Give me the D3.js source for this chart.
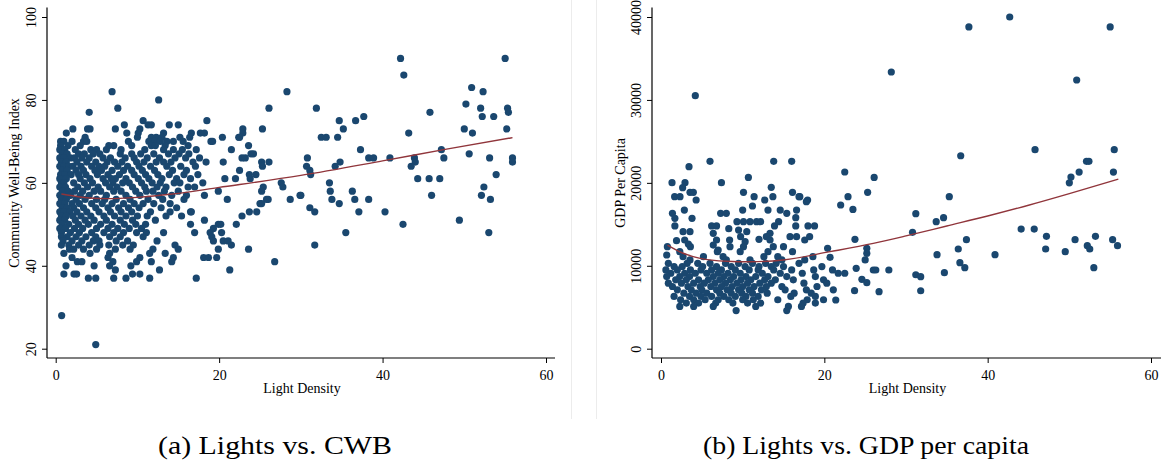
<!DOCTYPE html>
<html lang="en">
<head>
    <meta charset="UTF-8">
    <script src="https://cdn.jsdelivr.net/npm/d3@7"></script>
    <style>
        body { margin: 0; background: #fff; }
        svg text { font-family: "Liberation Serif", "Times New Roman", serif; fill: #000; }
    </style>
</head>
<body>
<svg id="chart" width="1169" height="464"></svg>
<script>
    // DATA

    // shared x axis ticks
    const X_TICKS = [0, 20, 40, 60];
    const CWB_TICKS = [20, 40, 60, 80, 100];
    const GDP_TICKS = [0, 10000, 20000, 30000, 40000];
    const CAPTIONS = ["(a) Lights vs. CWB", "(b) Lights vs. GDP per capita"];

    // Community Well-Being index: [score, [light density values at that score]]
    const cwbRows = [
        [90, [42.2, 55.0]],
        [86, [42.6]],
        [83, [50.9]],
        [82, [6.9, 28.3, 52.3]],
        [80, [12.6]],
        [79, [50.2]],
        [78, [7.6, 26.1, 31.9, 52.0, 55.3]],
        [77, [4.1, 45.8, 55.4]],
        [76, [37.7, 52.2, 53.6]],
        [75, [10.7, 18.5, 34.7, 36.7]],
        [74, [8.4, 11.3, 11.7, 13.9, 15.0]],
        [73, [2.1, 3.9, 4.2, 7.3, 10.3, 22.9, 25.3, 35.2, 50.0, 55.2]],
        [72, [1.3, 8.7, 10.1, 13.2, 16.6, 17.7, 18.2, 22.9, 43.2, 51.0]],
        [71, [3.6, 10.0, 11.7, 12.3, 13.0, 15.2, 16.4, 20.4, 22.4, 22.5, 32.5, 33.1, 34.5]],
        [70, [0.6, 1.0, 2.0, 3.4, 3.8, 8.9, 11.4, 12.1, 12.8, 13.6, 14.4, 15.6, 19.0, 19.2]],
        [69, [0.6, 1.5, 3.0, 6.5, 7.1, 9.3, 11.7, 12.2, 13.4, 16.2, 23.6]],
        [68, [0.5, 1.1, 2.4, 4.3, 5.0, 6.2, 8.0, 10.9, 13.2, 14.4, 15.5, 17.2, 21.5, 37.3, 47.2]],
        [67, [0.8, 1.4, 2.8, 3.5, 4.6, 5.4, 7.9, 9.3, 10.4, 12.0, 13.8, 15.1, 16.3, 23.9, 24.2, 50.6]],
        [66, [0.5, 1.0, 1.8, 2.3, 3.2, 4.1, 5.8, 6.7, 8.5, 9.6, 11.2, 12.7, 14.6, 15.9, 17.6, 22.8, 23.2, 30.8, 38.3, 38.9, 40.9, 43.9, 47.5, 53.1, 55.9]],
        [65, [0.7, 1.3, 2.6, 3.8, 4.9, 6.3, 7.2, 8.1, 9.9, 10.8, 12.3, 13.2, 14.1, 16.8, 18.4, 20.5, 25.2, 26.1, 34.8, 44.0, 55.9]],
        [64, [0.5, 1.0, 1.6, 2.1, 3.1, 4.4, 5.3, 6.0, 7.6, 8.8, 10.2, 11.6, 13.6, 15.3, 17.1, 25.3, 30.7, 34.2, 43.5]],
        [63, [0.8, 1.4, 2.5, 3.4, 4.8, 5.6, 6.9, 8.3, 9.3, 10.6, 12.1, 14.3, 16.0, 22.5, 31.1]],
        [62, [0.6, 1.1, 1.9, 2.8, 3.7, 5.1, 6.4, 7.8, 9.6, 11.0, 12.5, 13.9, 15.7, 17.4, 23.7, 24.5, 31.2, 53.9]],
        [61, [0.5, 1.3, 3.0, 4.2, 5.8, 6.8, 7.3, 8.6, 10.1, 11.4, 13.0, 14.8, 16.5, 20.7, 22.0, 23.8, 44.3, 45.7, 47.0]],
        [60, [0.7, 1.0, 2.2, 3.5, 4.5, 6.1, 7.0, 8.2, 9.0, 10.5, 11.8, 12.8, 14.5, 15.2, 18.0, 27.6, 33.5]],
        [59, [0.5, 1.2, 2.7, 3.9, 5.2, 6.6, 7.5, 9.4, 10.9, 12.4, 13.5, 16.2, 17.0, 25.4, 27.8, 52.4]],
        [58, [0.8, 1.5, 2.3, 3.3, 4.7, 5.5, 7.1, 8.0, 9.8, 11.1, 11.9, 13.3, 15.0, 19.9, 25.2, 33.6, 36.3]],
        [57, [0.5, 1.0, 1.8, 3.0, 4.1, 6.2, 8.6, 10.3, 12.6, 14.2, 16.0, 18.2, 29.9, 30.0, 46.0, 52.1]],
        [56, [0.7, 1.3, 2.5, 3.6, 5.0, 6.0, 7.4, 9.1, 11.3, 13.1, 15.7, 21.0, 25.8, 26.0, 28.7, 33.8, 36.6, 38.3, 53.2]],
        [55, [0.5, 1.1, 2.0, 2.9, 4.4, 5.7, 6.9, 8.3, 9.6, 10.7, 12.0, 14.0, 25.0, 25.2, 34.7]],
        [54, [0.8, 1.4, 2.2, 3.4, 4.9, 6.4, 7.7, 8.9, 10.2, 12.9, 14.8, 31.1]],
        [53, [0.5, 1.0, 1.7, 2.6, 3.8, 5.3, 6.7, 8.0, 9.3, 11.6, 14.0, 16.5, 16.6, 23.7, 24.6, 31.7, 37.1, 40.3]],
        [52, [0.7, 1.3, 2.1, 3.1, 4.3, 5.9, 7.2, 8.6, 10.0, 11.2, 13.5, 15.4, 22.8]],
        [51, [0.5, 1.1, 2.4, 3.6, 4.7, 6.2, 7.9, 9.4, 12.2, 18.2, 49.4]],
        [50, [0.8, 1.6, 2.8, 4.0, 5.5, 6.9, 8.4, 9.8, 11.0, 16.5, 19.9, 20.2, 22.1, 42.5]],
        [49, [0.5, 1.2, 2.3, 3.3, 5.0, 6.4, 7.6, 9.0, 10.5, 19.3]],
        [48, [0.7, 1.8, 2.9, 4.4, 5.9, 7.1, 8.3, 9.9, 11.1, 13.2, 17.0, 18.9, 20.3, 35.5, 53.0]],
        [47, [0.7, 1.4, 2.5, 3.7, 4.9, 6.6, 7.9, 10.7, 19.1]],
        [46, [0.9, 2.0, 3.2, 4.6, 5.3, 7.4, 8.8, 12.4, 19.3, 20.5, 21.1]],
        [45, [0.7, 1.6, 2.8, 4.1, 5.4, 6.5, 8.2, 9.5, 14.6, 21.5, 31.7]],
        [44, [1.7, 2.2, 3.4, 5.0, 7.3, 9.1, 11.9, 15.0, 19.9, 23.6]],
        [43, [1.0, 4.2, 6.6, 11.5, 13.4]],
        [42, [2.0, 6.4, 10.3, 14.4, 18.1, 18.7, 19.7]],
        [41, [2.65, 3.2, 7.0, 9.9, 11.7, 14.2, 26.8]],
        [40, [1.26, 4.7, 6.6, 9.2]],
        [39, [7.3, 12.7, 21.3]],
        [38, [1.0, 2.24, 2.56, 9.4, 10.3]],
        [37, [4.0, 4.9, 7.1, 8.6, 11.5, 17.2]],
        [28, [0.73]],
        [21, [4.9]]
    ];

    // fitted curve for CWB: [light density, score]
    const cwbFit = [[0.7, 57.3], [3, 56.6], [6, 56.2], [10, 56.5], [14.3, 57.3], [20, 58.9],
                    [30, 61.8], [40, 65.3], [48, 68.2], [55.9, 70.9]];

    // GDP per capita, scattered region: [light density, gdp]
    const gdpPoints = [
        [42.7, 40000], [37.7, 38800], [55.0, 38800], [28.2, 33370], [50.9, 32400], [4.2, 30510],
        [45.8, 24000], [55.5, 24000], [36.7, 23270], [52.1, 22600], [52.4, 22600], [51.2, 21300],
        [55.4, 21300], [50.2, 20700], [50.0, 20000], [35.3, 18330], [31.2, 16280], [33.7, 15320],
        [34.6, 15800], [30.8, 14030], [44.1, 14430], [45.7, 14430], [47.2, 13550], [47.1, 12020],
        [49.5, 11700], [50.7, 13150], [52.2, 12420], [52.5, 12020], [53.2, 13550], [53.0, 9770],
        [55.3, 13150], [55.9, 12420], [40.9, 11340], [37.4, 13150], [36.4, 12020], [36.6, 10370],
        [37.2, 9770], [34.7, 9170], [33.8, 11340], [31.2, 8920], [31.8, 8680], [31.8, 6990],
        [27.9, 9490], [26.0, 9490], [26.3, 9490], [26.7, 6880],
        [1.35, 20020], [1.67, 18330], [2.33, 18330], [2.94, 20020], [3.43, 21950], [2.65, 19420],
        [3.55, 18860], [3.96, 18860], [4.3, 17930], [6.0, 22590], [7.4, 20020], [10.1, 18860],
        [10.7, 20660], [11.4, 18330], [12.7, 17930], [13.5, 19460], [13.7, 18330], [13.8, 22590],
        [16.0, 22590], [16.1, 18860], [17.0, 18330], [17.95, 17930], [22.5, 21310], [22.9, 18330],
        [25.3, 18860], [26.1, 20660], [22.0, 17330], [23.5, 16800],
        [1.4, 16320], [1.7, 15720], [2.86, 16720], [3.8, 15720], [7.3, 16320], [8.0, 16320],
        [1.7, 14800], [6.2, 14800], [6.8, 14800], [8.3, 14470], [9.3, 15320], [10.1, 15320],
        [10.9, 15320], [11.7, 15320], [12.2, 15320], [9.5, 14310], [10.5, 14110], [13.9, 14800],
        [14.4, 15320], [13.35, 13910], [16.5, 15800], [16.5, 14800], [18.0, 14800], [18.8, 14800],
        [2.7, 14110], [3.55, 14110], [2.9, 13110], [3.35, 12620], [1.9, 13030], [6.4, 13910],
        [6.8, 13110], [6.4, 12500], [7.0, 11900], [8.4, 13110], [9.75, 13510], [10.3, 12910],
        [12.0, 13190], [12.9, 13510], [13.35, 13110], [15.8, 13510], [16.6, 13510], [17.6, 13110],
        [18.2, 13510], [20.4, 12100], [20.7, 11020], [11.2, 17210], [14.6, 16720], [15.4, 16320],
        [16.6, 16720], [13.1, 16720], [10.0, 16720], [17.8, 17730], [16.9, 18330],
        [23.7, 7000], [23.9, 9690], [23.75, 13190], [25.2, 12100], [25.2, 11500], [25.0, 10700],
        [24.6, 8360], [25.2, 7960], [21.4, 5870]
    ];

    // GDP per capita, dense lower block: [gdp, [light density values near that level]]
    const gdpRows = [
        [12300, [0.78, 3.6, 8.45, 10.1, 13.75, 15.0]],
        [11700, [2.3, 6.9, 9.7, 13.1, 16.1]],
        [11300, [0.7]],
        [11100, [2.7, 5.2, 7.6, 12.6, 14.3, 18.6]],
        [10700, [3.55, 8.0, 10.9, 14.8, 17.6]],
        [10300, [0.9, 3.2, 4.5, 6.0, 7.9, 9.5, 11.2, 12.8, 14.1, 16.9]],
        [9900, [1.6, 2.6, 5.1, 6.8, 8.6, 10.3, 12.0, 13.5, 15.0, 19.7]],
        [9500, [0.6, 2.0, 3.6, 4.9, 6.2, 7.4, 9.1, 10.8, 11.9, 13.8, 16.0, 18.7, 21.0]],
        [9100, [1.2, 2.9, 4.2, 5.6, 7.0, 8.2, 9.7, 12.4, 14.6, 17.3, 21.7, 22.5]],
        [8700, [0.7, 2.3, 3.5, 6.4, 7.7, 8.9, 10.4, 11.6, 13.1, 15.4, 18.9]],
        [8300, [1.8, 3.1, 4.6, 5.8, 7.2, 8.5, 9.8, 11.0, 12.7, 14.0, 16.2, 19.9]],
        [7900, [0.9, 2.5, 4.0, 5.3, 6.6, 7.9, 9.3, 10.6, 12.1, 13.5, 17.5, 20.3]],
        [7500, [1.4, 3.3, 4.8, 6.1, 7.4, 8.7, 10.0, 11.4, 12.9, 14.8, 19.1]],
        [7100, [2.0, 3.7, 5.0, 6.8, 8.1, 9.5, 10.8, 12.3, 15.2, 17.8, 21.1]],
        [6700, [2.8, 4.3, 5.6, 7.2, 8.6, 9.9, 11.2, 13.0, 16.3, 18.4]],
        [6300, [1.6, 3.5, 4.9, 6.2, 7.7, 9.1, 10.4, 11.9, 15.9, 18.9]],
        [5900, [2.4, 4.0, 5.4, 7.0, 8.3, 10.0, 11.3, 14.3, 17.9, 19.9]],
        [5500, [3.1, 4.6, 6.7, 8.8, 10.6, 12.2, 17.4, 18.9]],
        [5100, [2.3, 4.0, 6.4, 11.6, 15.6, 17.2]],
        [4600, [9.2, 15.4]]
    ];

    // fitted curve for GDP: [light density, gdp]
    const gdpFit = [[0.8, 12500], [2.5, 11600], [4.8, 10900], [8, 10550], [11, 10490], [15, 10700],
                    [20.7, 11700], [26, 12700], [30, 13600], [35, 14800], [40, 16000], [45, 17300],
                    [50, 18700], [56, 20450]];

    // BUILD

    const DOT = "#1a476f";
    const FIT = "#90353b";
    const svg = d3.select("#chart");

    // faint frame edges between the two graph images
    [571.5, 596.5].forEach(x => {
        svg.append("line").attr("x1", x).attr("x2", x).attr("y1", 0).attr("y2", 419)
            .attr("stroke", "#ececec").attr("stroke-width", 1);
    });

    function drawPanel(opts) {
        const x = d3.scaleLinear().domain([0, 60]).range(opts.xRange);
        const y = d3.scaleLinear().domain(opts.yDomain).range([348.7, 17]);
        const g = svg.append("g");

        // points
        g.append("g").selectAll("circle")
            .data(opts.points)
            .enter()
            .append("circle")
            .attr("cx", d => x(d[0]))
            .attr("cy", d => y(d[1]))
            .attr("r", 3.6)
            .attr("fill", DOT);

        // fitted curve on top
        const line = d3.line().x(d => x(d[0])).y(d => y(d[1])).curve(d3.curveMonotoneX);
        g.append("path").datum(opts.fit)
            .attr("d", line)
            .attr("fill", "none")
            .attr("stroke", FIT)
            .attr("stroke-width", 1.4);

        // x axis
        const xAxis = g.append("g").attr("transform", "translate(0,358)")
            .call(d3.axisBottom(x).tickValues(X_TICKS).tickSize(5).tickSizeOuter(0));
        xAxis.select(".domain").remove();
        xAxis.append("line").attr("x1", opts.frame[0]).attr("x2", opts.frame[1])
            .attr("stroke", "#000").attr("stroke-width", 1.2);
        xAxis.selectAll(".tick line").attr("stroke", "#000");
        xAxis.selectAll(".tick text")
            .attr("y", 22).attr("dy", null)
            .style("font-size", "14px");

        // y axis (plain integers, no thousands separator)
        const yAxis = g.append("g").attr("transform", `translate(${opts.frame[0]},0)`)
            .call(d3.axisLeft(y).tickValues(opts.yTicks).tickFormat(d3.format("d"))
                .tickSize(5).tickSizeOuter(0));
        yAxis.select(".domain").remove();
        yAxis.append("line").attr("y1", 7.5).attr("y2", 358)
            .attr("stroke", "#000").attr("stroke-width", 1.2);
        yAxis.selectAll(".tick line").attr("stroke", "#000");
        yAxis.selectAll(".tick text")
            .attr("x", null).attr("dy", null)
            .attr("text-anchor", "middle")
            .attr("transform", "translate(-11,0) rotate(-90)")
            .style("font-size", "14px");

        // titles
        g.append("text")
            .attr("x", (opts.frame[0] + opts.frame[1]) / 2 + 1)
            .attr("y", 393)
            .attr("text-anchor", "middle")
            .style("font-size", "14px")
            .text("Light Density");
        g.append("text")
            .attr("transform", `translate(${opts.yTitleX},183) rotate(-90)`)
            .attr("text-anchor", "middle")
            .style("font-size", "14px")
            .text(opts.yTitle);

        // caption
        g.append("text")
            .attr("x", opts.caption[0])
            .attr("y", 454)
            .attr("textLength", opts.caption[1])
            .attr("lengthAdjust", "spacingAndGlyphs")
            .style("font-size", "25px")
            .text(opts.caption[2]);
    }

    const cwbPoints = cwbRows.flatMap(([score, xs]) => xs.map(v => [v, score]));
    const gdpAll = gdpPoints.concat(gdpRows.flatMap(([gdp, xs]) => xs.map(v => [v, gdp])));

    drawPanel({
        xRange: [55.7, 546], frame: [47, 555],
        yDomain: [20, 100], yTicks: CWB_TICKS,
        points: cwbPoints, fit: cwbFit,
        yTitle: "Community Well-Being Index", yTitleX: 19,
        caption: [158, 234, CAPTIONS[0]]
    });
    drawPanel({
        xRange: [661, 1151], frame: [652, 1161],
        yDomain: [0, 40000], yTicks: GDP_TICKS,
        points: gdpAll, fit: gdpFit,
        yTitle: "GDP Per Capita", yTitleX: 625,
        caption: [703, 326, CAPTIONS[1]]
    });
</script>
</body>
</html>
